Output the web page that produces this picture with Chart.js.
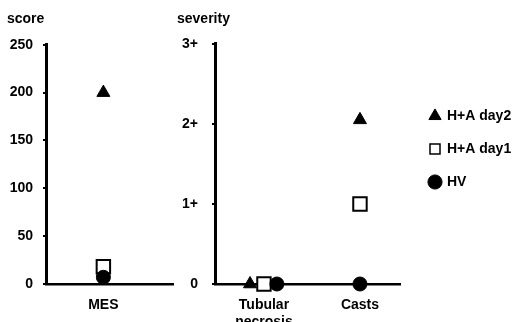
<!DOCTYPE html>
<html><head><meta charset="utf-8">
<script src="https://cdn.jsdelivr.net/npm/chart.js@4/dist/chart.umd.min.js"></script>
<style>
html,body{margin:0;padding:0;background:#fff;overflow:hidden;width:519px;height:322px;position:relative;}
canvas{position:absolute;}
#c1{left:0;top:0;width:185px;height:322px;}
#c2{left:177px;top:0;width:240px;height:322px;}
#c3{left:411px;top:90px;width:220px;height:160px;}
</style></head><body>
<canvas id="c1" width="185" height="322"></canvas>
<canvas id="c2" width="240" height="322"></canvas>
<canvas id="c3" width="220" height="160"></canvas>
<script>
// ---- data ----
const seriesNames = ['H+A day2', 'H+A day1', 'HV'];
const scoreCategories = ['MES'];
const scoreDay2 = [200];
const scoreDay1 = [18];
const scoreHV = [7];
const scoreTicks = [0, 50, 100, 150, 200, 250];
const histoCategories = [['Tubular', 'necrosis'], 'Casts'];
const severityDay2 = [0, 2.05];
const severityDay1 = [0, 1];
const severityHV = [0, 0];
const severityTickValues = [0, 1, 2, 3];
const severityTickLabels = ['0', '1+', '2+', '3+'];

// ---- styles ----
const FONT = {family: "'Liberation Sans', Arial, sans-serif", size: 14, weight: 'bold'};
Chart.defaults.color = '#000';
Chart.defaults.font = FONT;
const styles = [
  {pointStyle: 'triangle', radius: 7.5, bg: '#000', bw: 1, order: 1},
  {pointStyle: 'rect', radius: 9.5, bg: '#fff', bw: 2, order: 2},
  {pointStyle: 'circle', radius: 7, bg: '#000', bw: 1, order: 0}
];
const dodge = [-0.145, 0, 0.135]; // spread tied points so all remain visible

function makeSets(seriesValues) {
  return seriesValues.map((vals, s) => ({
    label: seriesNames[s],
    data: vals.map((v, i) => {
      const tied = seriesValues.every(sv => sv[i] === vals[i]);
      return {x: i + (tied ? dodge[s] : 0), y: v};
    }),
    pointStyle: styles[s].pointStyle,
    pointRadius: styles[s].radius,
    pointHoverRadius: styles[s].radius,
    backgroundColor: styles[s].bg,
    borderColor: '#000',
    borderWidth: styles[s].bw,
    showLine: false,
    clip: false,
    order: styles[s].order
  }));
}

function xScale(labels, min, max) {
  return {
    type: 'linear', min, max,
    afterBuildTicks: a => { a.ticks = labels.map((c, i) => ({value: i})); },
    afterFit: a => { a.height = 38; },
    ticks: {padding: 13, maxRotation: 0, autoSkip: false, callback: v => labels[v], font: FONT},
    grid: {display: false, drawTicks: false},
    border: {display: true, color: '#000', width: 2.5}
  };
}
function yScale(values, labels, max, width, pad) {
  return {
    type: 'linear', min: 0, max,
    afterBuildTicks: a => { a.ticks = values.map(v => ({value: v})); },
    afterFit: a => { a.width = width; },
    ticks: {padding: pad, callback: (v, i) => labels[i], font: FONT},
    grid: {drawOnChartArea: false, color: '#000', lineWidth: 2, tickLength: 3},
    border: {display: true, color: '#000', width: 3}
  };
}
function titleOpt(text, bottom) {
  return {display: true, text, align: 'start', color: '#000', font: FONT, padding: {top: 11, bottom}};
}

new Chart(document.getElementById('c1'), {
  type: 'scatter',
  data: {datasets: makeSets([scoreDay2, scoreDay1, scoreHV])},
  options: {
    responsive: false, animation: false, events: [],
    layout: {padding: {left: 7, right: 4, top: 0, bottom: 0}},
    scales: {
      x: xScale(scoreCategories, -0.45, 0.55),
      y: yScale(scoreTicks, scoreTicks.map(String), 250, 39, 10)
    },
    plugins: {legend: {display: false}, tooltip: {enabled: false}, title: titleOpt('score', 17)}
  }
});

new Chart(document.getElementById('c2'), {
  type: 'scatter',
  data: {datasets: makeSets([severityDay2, severityDay1, severityHV])},
  options: {
    responsive: false, animation: false, events: [],
    layout: {padding: {left: 0, right: 17, top: 0, bottom: 0}},
    scales: {
      x: xScale(histoCategories, -0.51, 1.417),
      y: yScale(severityTickValues, severityTickLabels, 3, 38, 14)
    },
    plugins: {legend: {display: false}, tooltip: {enabled: false}, title: titleOpt('severity', 16)}
  }
});

// legend (same series, styles)
new Chart(document.getElementById('c3'), {
  type: 'scatter',
  data: {datasets: seriesNames.map((n, s) => ({
    label: n, data: [], pointStyle: styles[s].pointStyle,
    backgroundColor: styles[s].bg, borderColor: '#000', borderWidth: styles[s].bw === 2 ? 1.5 : 1
  }))},
  options: {
    responsive: false, animation: false, events: [],
    scales: {x: {display: false}, y: {display: false}},
    plugins: {
      tooltip: {enabled: false},
      legend: {position: 'left', align: 'start',
        labels: {usePointStyle: true, boxWidth: 10, boxHeight: 10, padding: 19, color: '#000', font: FONT}}
    }
  }
});
</script>
</body></html>
